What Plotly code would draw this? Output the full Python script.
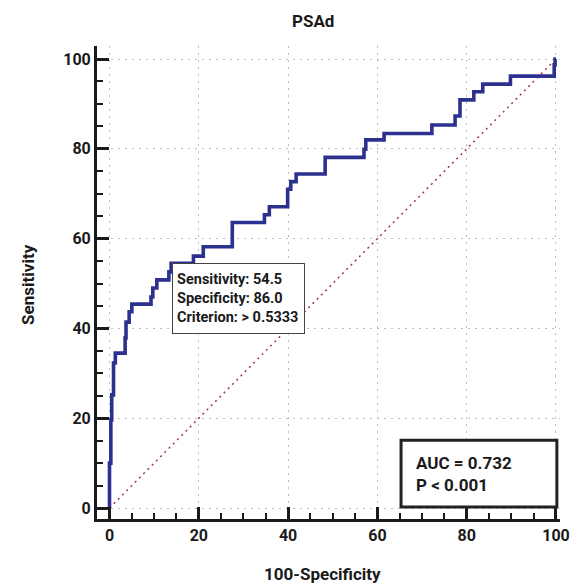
import plotly.graph_objects as go

# ROC operating points: 100-Specificity (x) and Sensitivity (y), step corners
fpr = [0, 0, 0.3, 0.5, 0.9, 1.3, 3.5, 3.7, 4.4, 5.0, 9.3, 9.7, 10.6, 13.3, 13.8,
       18.8, 21.0, 27.5, 34.7, 35.8, 39.9, 40.6, 41.8, 48.3, 57.0, 57.4, 61.5,
       72.2, 77.4, 78.5, 81.6, 83.6, 89.8, 99.6, 99.8, 100]
tpr = [0, 10.0, 19.6, 25.2, 32.3, 34.5, 37.9, 41.4, 43.7, 45.4, 47.0, 49.0, 50.8,
       52.6, 54.5, 56.1, 58.2, 63.6, 65.3, 67.1, 71.0, 72.7, 74.4, 78.1, 79.9,
       82.0, 83.4, 85.3, 87.3, 90.9, 92.7, 94.4, 96.2, 98.7, 100, 100]
diag = [0, 100]
tick_vals = [0, 20, 40, 60, 80, 100]

crit_x, crit_y = 14.0, 54.5
crit_text = "Sensitivity: 54.5<br>Specificity: 86.0<br>Criterion: > 0.5333"
auc_text = "AUC = 0.732<br>P < 0.001"

FONT = "Roboto, Liberation Sans, sans-serif"
INK = "#1a1a1a"

fig = go.Figure()
fig.add_trace(go.Scatter(x=diag, y=diag, mode="lines",
                         line=dict(color="#a03848", width=1.5, dash="2px,4px"),
                         hoverinfo="skip", showlegend=False))
fig.add_trace(go.Scatter(x=fpr, y=tpr, mode="lines", line_shape="hv",
                         line=dict(color="#2c318f", width=3.6),
                         showlegend=False))

axis_common = dict(
    showline=True, linecolor=INK, linewidth=3, mirror=False,
    ticks="inside", ticklen=12, tickwidth=3, tickcolor=INK,
    tickvals=tick_vals, showgrid=True, gridcolor="#bdbdbd", gridwidth=1,
    griddash="2px,5px", zeroline=False, automargin=False,
    tickfont=dict(family=FONT, size=16, color=INK, weight="bold"),
    minor=dict(ticks="inside", ticklen=6, tickwidth=1.5, tickcolor=INK,
               dtick=5, tick0=0, showgrid=False),
)

fig.update_layout(
    width=572, height=586,
    margin=dict(l=97, r=12, t=46, b=67),
    paper_bgcolor="white", plot_bgcolor="white",
    font=dict(family=FONT, color=INK),
    xaxis=dict(range=[-2.8, 100.9], **axis_common),
    yaxis=dict(range=[-2.45, 102.9], **axis_common),
)

# titles as annotations for exact placement
fig.add_annotation(x=0.467, y=1.052, xref="paper", yref="paper", text="PSAd",
                   showarrow=False, xanchor="center", yanchor="middle",
                   font=dict(family=FONT, size=17, color=INK, weight="bold"))
fig.add_annotation(x=0.486, y=-0.116, xref="paper", yref="paper", text="100-Specificity",
                   showarrow=False, xanchor="center", yanchor="middle",
                   font=dict(family=FONT, size=17, color=INK, weight="bold"))
fig.add_annotation(x=-0.149, y=0.495, xref="paper", yref="paper", text="Sensitivity",
                   showarrow=False, xanchor="center", yanchor="middle", textangle=-90,
                   font=dict(family=FONT, size=17, color=INK, weight="bold"))

fig.add_annotation(x=crit_x, y=crit_y, xref="x", yref="y",
                   xanchor="left", yanchor="top", text=crit_text,
                   showarrow=False, align="left", width=123, height=61,
                   borderpad=4, bordercolor="#444444", borderwidth=1, bgcolor="white",
                   font=dict(family=FONT, size=14.5, color=INK, weight="bold"))

fig.add_shape(type="rect", xref="x", yref="y", x0=65.3, x1=100.2, y0=0.2, y1=15.1,
              line=dict(color="#222222", width=3), fillcolor="white", layer="above")
fig.add_annotation(x=68.3, y=7.6, xref="x", yref="y", xanchor="left", yanchor="middle",
                   text=auc_text, showarrow=False, align="left",
                   font=dict(family=FONT, size=17, color=INK, weight="bold"))

fig.write_html("out.html", config={"displayModeBar": False},
               post_script="document.body.style.margin='0';document.body.style.overflow='hidden';")
